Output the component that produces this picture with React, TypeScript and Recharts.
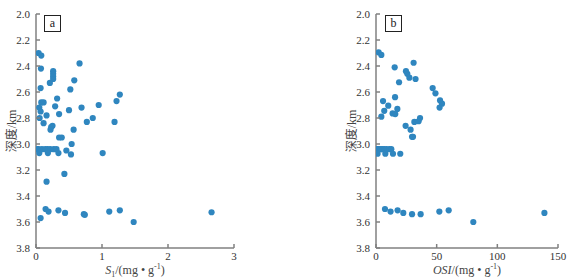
import React from 'react';
import { ScatterChart, Scatter, XAxis, YAxis } from 'recharts';

// 深度 ticks (km), shared by both panels
const DEPTH_TICKS = [2.0, 2.2, 2.4, 2.6, 2.8, 3.0, 3.2, 3.4, 3.6, 3.8];
const S1_TICKS = [0, 1, 2, 3];
const OSI_TICKS = [0, 50, 100, 150];

// panel a: S1 (mg/g) vs depth (km)
const s1Values = [
  0.04, 0.08, 0.075, 0.66, 0.26, 0.26, 0.26, 0.26, 0.21, 0.58,
  0.07, 0.52, 1.27, 0.32, 1.22, 0.08, 0.115, 0.95, 0.05, 0.29,
  0.69, 0.5, 0.07, 0.16, 0.35, 0.055, 0.86, 0.77, 1.19, 0.115,
  0.25, 0.23, 0.22, 0.57, 0.35, 0.39, 0.54,
  0.02, 0.04, 0.09, 0.14, 0.175, 0.215, 0.27, 0.31,
  0.46, 0.05, 0.18, 0.34, 0.53, 1.01, 0.43, 0.16,
  0.145, 0.19, 0.34, 0.44, 0.07, 0.725, 0.74, 1.11, 1.27, 1.48, 2.66,
];
const s1Depths = [
  2.3, 2.32, 2.42, 2.38, 2.44, 2.46, 2.48, 2.5, 2.53, 2.51,
  2.57, 2.58, 2.62, 2.65, 2.67, 2.68, 2.68, 2.7, 2.72, 2.71,
  2.72, 2.74, 2.75, 2.78, 2.77, 2.8, 2.8, 2.83, 2.83, 2.84,
  2.86, 2.87, 2.89, 2.89, 2.95, 2.95, 3.0,
  3.04, 3.04, 3.04, 3.04, 3.04, 3.04, 3.04, 3.04,
  3.05, 3.07, 3.07, 3.07, 3.08, 3.07, 3.23, 3.29,
  3.5, 3.52, 3.51, 3.53, 3.57, 3.54, 3.545, 3.52, 3.51, 3.6, 3.525,
];

// panel b: OSI (mg/g) vs depth (km)
const osiValues = [
  2.2, 4.4, 31, 15.4, 24.7, 25.8, 27.5, 32.6, 19, 46.7,
  49, 52.8, 54.4, 52.4, 5.8, 15.7, 10.1, 6.8, 17.6, 13.7,
  15.9, 4.4, 24.4, 31.6, 36.3, 35.1, 28.5, 29.7, 30.5,
  0.5, 1.3, 2.6, 4.1, 5.5, 6.8, 8.7, 11, 12.6,
  1.3, 7.7, 14, 20,
  7.4, 12, 17.8, 22.5, 29.7, 36.8, 52.2, 59.9, 80.2, 138.8,
];
const osiDepths = [
  2.295, 2.315, 2.375, 2.41, 2.44, 2.46, 2.49, 2.5, 2.525, 2.57,
  2.61, 2.665, 2.69, 2.72, 2.67, 2.64, 2.705, 2.745, 2.73, 2.765,
  2.77, 2.79, 2.86, 2.83, 2.8, 2.825, 2.89, 2.945, 2.945,
  3.04, 3.04, 3.04, 3.04, 3.04, 3.04, 3.04, 3.04, 3.04,
  3.075, 3.075, 3.075, 3.075,
  3.5, 3.52, 3.51, 3.53, 3.54, 3.54, 3.52, 3.51, 3.6, 3.53,
];

const DOT = '#2f86bf';
const AXIS = '#808080';
const FONT = '"Times New Roman", "Liberation Serif", serif';
const CJK = '"Times New Roman", "Liberation Serif", "Noto Sans CJK SC", serif';

const s1Data = s1Values.map((v, i) => ({ x: v, y: s1Depths[i] }));
const osiData = osiValues.map((v, i) => ({ x: v, y: osiDepths[i] }));

function YTick(props: any) {
  const { x, y, payload } = props;
  return (
    <g>
      <line x1={x} x2={x + 4} y1={y} y2={y} stroke={AXIS} strokeWidth={1.5} />
      <text x={x - 6} y={y} dy={4} textAnchor="end" fontSize={11} fill="#333" fontFamily={FONT}>
        {Number(payload.value).toFixed(1)}
      </text>
    </g>
  );
}

function XTick(props: any) {
  const { x, y, payload } = props;
  return (
    <g>
      <line x1={x} x2={x} y1={y} y2={y - 4} stroke={AXIS} strokeWidth={1.5} />
      <text x={x} y={y + 12} textAnchor="middle" fontSize={11} fill="#333" fontFamily={FONT}>
        {payload.value}
      </text>
    </g>
  );
}

const dot = (p: any) => <circle cx={p.cx} cy={p.cy} r={3.1} fill={DOT} />;

interface PanelProps {
  data: { x: number; y: number }[];
  domain: [number, number];
  ticks: number[];
  width: number;
  marginRight: number;
}

function Panel({ data, domain, ticks, width, marginRight }: PanelProps) {
  return (
    <ScatterChart width={width} height={280} margin={{ top: 14, right: marginRight, bottom: 12, left: 0 }}>
      <XAxis
        type="number"
        dataKey="x"
        domain={domain}
        ticks={ticks}
        allowDataOverflow
        height={20}
        tickSize={0}
        tickMargin={0}
        tickLine={false}
        axisLine={{ stroke: AXIS, strokeWidth: 1.5 }}
        tick={<XTick />}
        interval={0}
      />
      <YAxis
        type="number"
        dataKey="y"
        domain={[2.0, 3.8]}
        ticks={DEPTH_TICKS}
        reversed
        allowDataOverflow
        width={36}
        tickSize={0}
        tickMargin={0}
        tickLine={false}
        axisLine={{ stroke: AXIS, strokeWidth: 1.5 }}
        tick={<YTick />}
        interval={0}
      />
      <Scatter data={data} shape={dot} isAnimationActive={false} />
    </ScatterChart>
  );
}

const tagStyle: React.CSSProperties = {
  position: 'absolute',
  top: 15,
  width: 15,
  height: 15,
  border: '1px solid #222',
  fontFamily: FONT,
  fontSize: 12,
  lineHeight: '14px',
  textAlign: 'center',
  color: '#222',
  background: '#fff',
};

const yLabelStyle: React.CSSProperties = {
  position: 'absolute',
  top: 131,
  width: 60,
  marginLeft: -30,
  marginTop: -8,
  textAlign: 'center',
  transform: 'rotate(-90deg)',
  fontFamily: CJK,
  fontSize: 12,
  lineHeight: '16px',
  color: '#444',
};

const xLabelStyle: React.CSSProperties = {
  position: 'absolute',
  top: 259,
  width: 160,
  marginLeft: -80,
  textAlign: 'center',
  fontFamily: FONT,
  fontSize: 12,
  lineHeight: '16px',
  color: '#444',
  whiteSpace: 'nowrap',
};

export default function App() {
  return (
    <div style={{ position: 'absolute', left: 0, top: 0, width: 576, height: 280, background: '#fff' }}>
      <div style={{ position: 'absolute', left: 0, top: 0 }}>
        <Panel data={s1Data} domain={[0, 3]} ticks={S1_TICKS} width={288} marginRight={54} />
      </div>
      <div style={{ position: 'absolute', left: 340, top: 0 }}>
        <Panel data={osiData} domain={[0, 150]} ticks={OSI_TICKS} width={236} marginRight={18} />
      </div>

      <div style={{ ...tagStyle, left: 44 }}>a</div>
      <div style={{ ...tagStyle, left: 385 }}>b</div>

      <div style={{ ...yLabelStyle, left: 12 }}>深度/km</div>
      <div style={{ ...yLabelStyle, left: 352 }}>深度/km</div>

      <div style={{ ...xLabelStyle, left: 135 }}>
        <i>S</i>
        <sub style={{ fontSize: 8 }}>1</sub>/(mg • g<sup style={{ fontSize: 8 }}>-1</sup>)
      </div>
      <div style={{ ...xLabelStyle, left: 467 }}>
        <i>OSI</i>/(mg • g<sup style={{ fontSize: 8 }}>-1</sup>)
      </div>
    </div>
  );
}
